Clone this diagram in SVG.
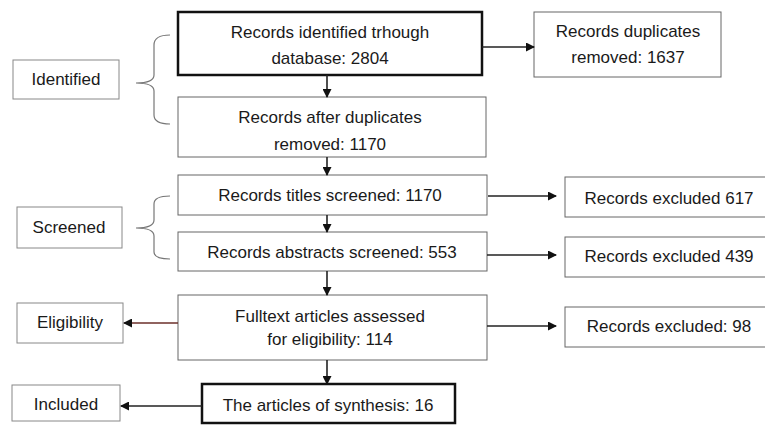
<svg xmlns="http://www.w3.org/2000/svg" width="765" height="426" viewBox="0 0 765 426">
<style>
text{font-family:"Liberation Sans",Arial,sans-serif;font-size:17px;fill:#1a1a1a;text-anchor:middle}
.box{fill:#fff;stroke:#666;stroke-width:1}
.thick{fill:#fff;stroke:#111;stroke-width:2.5}
.side{fill:#fff;stroke:#888;stroke-width:1}
.con{stroke:#222;stroke-width:1.6;fill:none}
.brace{stroke:#777;stroke-width:1.2;fill:none}
</style>
<defs>
<marker id="ah" markerWidth="9" markerHeight="9" refX="8" refY="4.5" orient="auto" markerUnits="userSpaceOnUse">
<path d="M0,0 L9,4.5 L0,9 Z" fill="#111"/>
</marker>
</defs>
<rect width="765" height="426" fill="#fff"/>

<g id="n_identified_db"><rect class="thick" x="178" y="12" width="304" height="63"/><text x="330" y="38">Records identified trhough</text><text x="330" y="64">database: 2804</text></g>
<g id="n_dup_removed"><rect class="box" x="534" y="12" width="187" height="65"/><text x="628" y="37">Records duplicates</text><text x="628" y="63">removed: 1637</text></g>
<g id="n_after_dup"><rect class="box" x="178" y="97" width="308" height="60"/><text x="330" y="123">Records after duplicates</text><text x="330" y="150">removed: 1170</text></g>
<g id="n_titles"><rect class="box" x="178" y="175" width="309" height="40"/><text x="330" y="201">Records titles screened: 1170</text></g>
<g id="n_abstracts"><rect class="box" x="178" y="232" width="309" height="39"/><text x="332" y="258">Records abstracts screened: 553</text></g>
<g id="n_fulltext"><rect class="box" x="178" y="295" width="309" height="65"/><text x="330" y="322">Fulltext articles assessed</text><text x="330" y="345">for eligibility:  114</text></g>
<g id="n_synthesis"><rect class="thick" x="202" y="384" width="253" height="39"/><text x="328" y="411">The articles of synthesis: 16</text></g>
<g id="n_excl617"><rect class="box" x="565" y="177" width="215" height="40"/><text x="669" y="204">Records excluded  617</text></g>
<g id="n_excl439"><rect class="box" x="565" y="237" width="215" height="40"/><text x="669" y="262">Records excluded  439</text></g>
<g id="n_excl98"><rect class="box" x="565" y="307" width="215" height="40"/><text x="669" y="332">Records excluded: 98</text></g>
<g id="n_lbl_identified"><rect class="side" x="13" y="60" width="106" height="39"/><text x="66" y="85">Identified</text></g>
<g id="n_lbl_screened"><rect class="side" x="17" y="207" width="105" height="41"/><text x="69" y="233">Screened</text></g>
<g id="n_lbl_eligibility"><rect class="side" x="17" y="303" width="106" height="40"/><text x="70" y="328">Eligibility</text></g>
<g id="n_lbl_included"><rect class="side" x="12" y="385" width="108" height="36"/><text x="66" y="410">Included</text></g>

<g id="braces">
<path class="brace" d="M170,35 Q154,35 154,45 L154,75 Q154,83 136,83 Q154,83 154,91 L154,115 Q154,124 170,124"/>
<path class="brace" d="M170,196 Q154,196 154,204 L154,220 Q154,228 136,228 Q154,228 154,236 L154,252 Q154,259 170,259"/>
</g>

<g id="connectors">
<line class="con" x1="327" y1="75" x2="327" y2="97" marker-end="url(#ah)"/>
<line class="con" x1="327" y1="157" x2="327" y2="175" marker-end="url(#ah)"/>
<line class="con" x1="327" y1="215" x2="327" y2="232" marker-end="url(#ah)"/>
<line class="con" x1="327" y1="271" x2="327" y2="295" marker-end="url(#ah)"/>
<line class="con" x1="327" y1="360" x2="327" y2="384" marker-end="url(#ah)"/>
<line class="con" x1="482" y1="47" x2="534" y2="47" marker-end="url(#ah)"/>
<line class="con" x1="488" y1="196" x2="556" y2="196" marker-end="url(#ah)"/>
<line class="con" x1="487" y1="255" x2="556" y2="255" marker-end="url(#ah)"/>
<line class="con" x1="487" y1="326" x2="556" y2="326" marker-end="url(#ah)"/>
<line class="con" x1="178" y1="323" x2="124" y2="323" marker-end="url(#ah)" style="stroke:#6b2f2a"/>
<line class="con" x1="202" y1="406" x2="121" y2="406" marker-end="url(#ah)"/>
</g>
</svg>
